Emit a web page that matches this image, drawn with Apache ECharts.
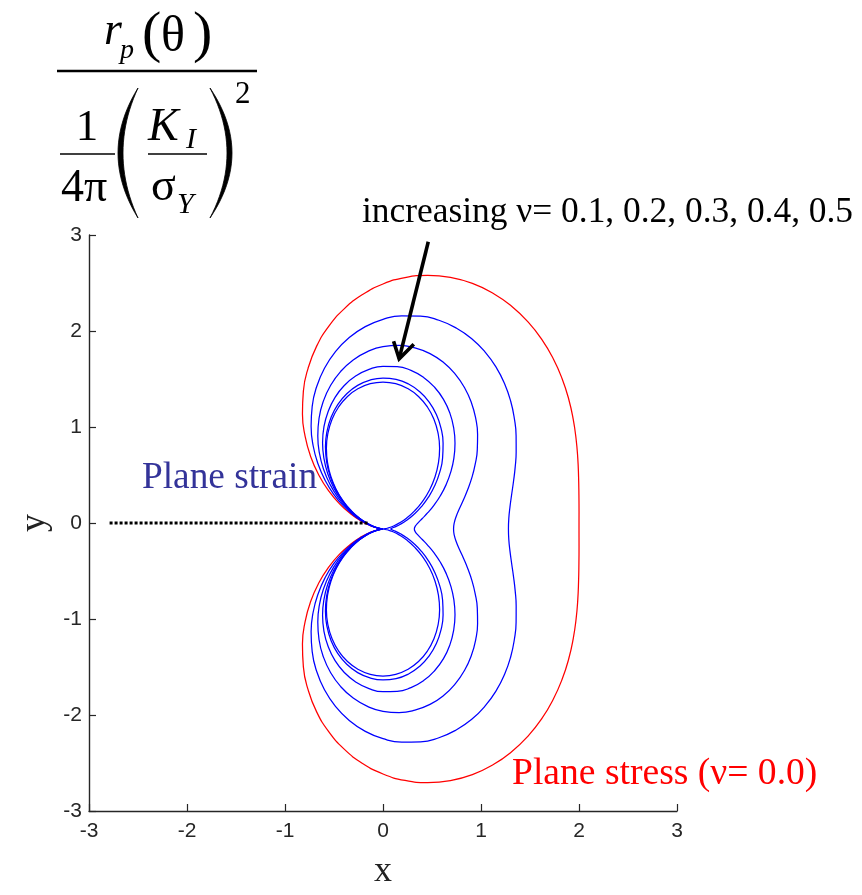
<!DOCTYPE html>
<html>
<head>
<meta charset="utf-8">
<script src="https://cdn.jsdelivr.net/npm/echarts@6/dist/echarts.min.js"></script>
<style>
  html, body { margin: 0; padding: 0; background: #fff; }
  #chart { width: 862px; height: 895px; }
</style>
</head>
<body>
<div id="chart"></div>
<script>
// Polar angle of each sample, degrees (crack lies along ±180°)
const thetaDeg = [
  -180,-175,-170,-165,-160,-155,-150,-145,-140,-135,-130,-125,-120,-115,-110,-105,-100,-95,
  -90,-85,-80,-75,-70,-65,-60,-55,-50,-45,-40,-35,-30,-25,-20,-15,-10,-5,
  0,5,10,15,20,25,30,35,40,45,50,55,60,65,70,75,80,85,
  90,95,100,105,110,115,120,125,130,135,140,145,150,155,160,165,170,175,180];

// Normalised plastic-zone radius r_p(θ) / [(1/4π)(K_I/σ_Y)^2]
const rPlaneStress = [
  0,0.015,0.060,0.135,0.236,0.362,0.509,0.674,0.854,1.043,1.237,1.433,1.625,1.809,1.983,2.141,2.281,2.401,
  2.500,2.576,2.628,2.658,2.667,2.655,2.625,2.580,2.523,2.457,2.386,2.313,2.241,2.174,2.115,2.066,2.030,2.008,
  2.000,2.008,2.030,2.066,2.115,2.174,2.241,2.313,2.386,2.457,2.523,2.580,2.625,2.655,2.667,2.658,2.628,2.576,
  2.500,2.401,2.281,2.141,1.983,1.809,1.625,1.433,1.237,1.043,0.854,0.674,0.509,0.362,0.236,0.135,0.060,0.015,0];
const rStrainNu01 = [
  0,0.014,0.055,0.122,0.214,0.328,0.461,0.609,0.770,0.937,1.109,1.279,1.445,1.602,1.746,1.874,1.984,2.073,
  2.140,2.184,2.206,2.205,2.183,2.143,2.085,2.014,1.932,1.843,1.750,1.658,1.569,1.488,1.417,1.359,1.316,1.289,
  1.280,1.289,1.316,1.359,1.417,1.488,1.569,1.658,1.750,1.843,1.932,2.014,2.085,2.143,2.183,2.205,2.206,2.184,
  2.140,2.073,1.984,1.874,1.746,1.602,1.445,1.279,1.109,0.937,0.770,0.609,0.461,0.328,0.214,0.122,0.055,0.014,0];
const rStrainNu02 = [
  0,0.013,0.051,0.113,0.197,0.302,0.423,0.559,0.704,0.855,1.009,1.160,1.305,1.440,1.561,1.666,1.752,1.817,
  1.860,1.880,1.877,1.853,1.808,1.744,1.665,1.573,1.472,1.365,1.256,1.148,1.047,0.954,0.874,0.808,0.760,0.730,
  0.720,0.730,0.760,0.808,0.874,0.954,1.047,1.148,1.256,1.365,1.472,1.573,1.665,1.744,1.808,1.853,1.877,1.880,
  1.860,1.817,1.752,1.666,1.561,1.440,1.305,1.160,1.009,0.855,0.704,0.559,0.423,0.302,0.197,0.113,0.051,0.013,0];
const rStrainNu03 = [
  0,0.012,0.048,0.106,0.185,0.283,0.396,0.522,0.657,0.797,0.937,1.075,1.205,1.324,1.430,1.518,1.587,1.635,
  1.660,1.663,1.643,1.601,1.539,1.460,1.365,1.258,1.143,1.023,0.902,0.785,0.674,0.573,0.486,0.415,0.363,0.331,
  0.320,0.331,0.363,0.415,0.486,0.573,0.674,0.785,0.902,1.023,1.143,1.258,1.365,1.460,1.539,1.601,1.643,1.663,
  1.660,1.635,1.587,1.518,1.430,1.324,1.205,1.075,0.937,0.797,0.657,0.522,0.396,0.283,0.185,0.106,0.048,0.012,0];
const rStrainNu04 = [
  0,0.012,0.046,0.102,0.178,0.272,0.380,0.501,0.629,0.762,0.895,1.024,1.145,1.255,1.351,1.429,1.488,1.525,
  1.540,1.532,1.502,1.450,1.378,1.289,1.185,1.069,0.946,0.818,0.690,0.566,0.450,0.344,0.253,0.179,0.125,0.091,
  0.080,0.091,0.125,0.179,0.253,0.344,0.450,0.566,0.690,0.818,0.946,1.069,1.185,1.289,1.378,1.450,1.502,1.532,
  1.540,1.525,1.488,1.429,1.351,1.255,1.145,1.024,0.895,0.762,0.629,0.501,0.380,0.272,0.178,0.102,0.046,0.012,0];
const rStrainNu05 = [
  0,0.011,0.045,0.100,0.175,0.268,0.375,0.493,0.620,0.750,0.880,1.007,1.125,1.232,1.325,1.400,1.455,1.489,
  1.500,1.489,1.455,1.400,1.325,1.232,1.125,1.007,0.880,0.750,0.620,0.493,0.375,0.268,0.175,0.100,0.045,0.011,
  0,0.011,0.045,0.100,0.175,0.268,0.375,0.493,0.620,0.750,0.880,1.007,1.125,1.232,1.325,1.400,1.455,1.489,
  1.500,1.489,1.455,1.400,1.325,1.232,1.125,1.007,0.880,0.750,0.620,0.493,0.375,0.268,0.175,0.100,0.045,0.011,0];

// Axis ticks
const xTicks = [-3,-2,-1,0,1,2,3];
const yTicks = [-3,-2,-1,0,1,2,3];

// Crack faces (dotted) and the "increasing ν" pointer, in x-y units
const crackLine = [[-2.79, 0], [-0.14, 0]];
const arrowShaft = [[0.462, 2.93], [0.165, 1.71]];
const arrowHead = [[0.108, 1.893], [0.165, 1.71], [0.314, 1.862]];

const chart = echarts.init(document.getElementById('chart'), null, { renderer: 'canvas' });

const GRID = { left: 89, top: 235, width: 588, height: 588 };
const SERIF = '"Liberation Serif", "Times New Roman", serif';
const SANS = '"Liberation Sans Narrow", "Liberation Sans", Arial, sans-serif';

function polarSeries(name, radii, color) {
  return {
    name, type: 'line', coordinateSystem: 'polar', polarIndex: 0,
    data: thetaDeg.map((t, i) => [radii[i], t]),
    symbol: 'none', smooth: 0.5, silent: true,
    lineStyle: { color, width: 1.25 }
  };
}

// text placed by its baseline (canvas 'middle' sits 0.3375em above the baseline for this face)
function txt(str, left, baseline, size, opts = {}) {
  return {
    type: 'text', x: left, y: baseline - 0.3375 * size, silent: true,
    style: {
      text: str,
      font: (opts.italic ? 'italic ' : '') + size + 'px ' + SERIF,
      fill: opts.color || '#000',
      align: opts.align || 'left',
      verticalAlign: 'middle'
    }
  };
}
function bar(x1, x2, y, w) {
  return { type: 'line', silent: true, shape: { x1, y1: y, x2, y2: y }, style: { stroke: '#000', lineWidth: w } };
}
// tall bracket glyph: crescent between two quadratic curves sharing the end points
function paren(xEnd, yTop, yBot, cOuter, cInner) {
  const ym = (yTop + yBot) / 2;
  const q = (c, t) => [
    (1 - t) * (1 - t) * xEnd + 2 * (1 - t) * t * c + t * t * xEnd,
    (1 - t) * (1 - t) * yTop + 2 * (1 - t) * t * ym + t * t * yBot
  ];
  const pts = [];
  for (let i = 0; i <= 24; i++) pts.push(q(cOuter, i / 24));
  for (let i = 24; i >= 0; i--) pts.push(q(cInner, i / 24));
  return { type: 'polygon', silent: true, shape: { points: pts }, style: { fill: '#000', stroke: '#000', lineWidth: 0.8 } };
}

const cx = GRID.left + GRID.width / 2;
const cy = GRID.top + GRID.height / 2;

const option = {
  animation: false,
  backgroundColor: '#fff',
  grid: { left: GRID.left, top: GRID.top, width: GRID.width, height: GRID.height, containLabel: false },
  xAxis: {
    type: 'value', min: xTicks[0], max: xTicks[xTicks.length - 1], interval: 1,
    name: 'x', nameLocation: 'middle', nameGap: 43,
    nameTextStyle: { fontFamily: SERIF, fontSize: 36, color: '#222' },
    axisLine: { onZero: false, lineStyle: { color: '#262626', width: 1.4 } },
    axisTick: { inside: true, length: 7, lineStyle: { color: '#262626', width: 1.2 } },
    axisLabel: { margin: 10, fontFamily: SANS, fontSize: 21, color: '#262626' },
    splitLine: { show: false }
  },
  yAxis: {
    type: 'value', min: yTicks[0], max: yTicks[yTicks.length - 1], interval: 1,
    name: 'y', nameLocation: 'middle', nameGap: 36, nameRotate: 90,
    nameTextStyle: { fontFamily: SERIF, fontSize: 36, color: '#222' },
    axisLine: { onZero: false, lineStyle: { color: '#262626', width: 1.4 } },
    axisTick: { inside: true, length: 7, lineStyle: { color: '#262626', width: 1.2 } },
    axisLabel: { margin: 7, fontFamily: SANS, fontSize: 21, color: '#262626' },
    splitLine: { show: false }
  },
  polar: { center: [cx, cy], radius: GRID.width / 2 },
  radiusAxis: { type: 'value', min: 0, max: 3, show: false, splitLine: { show: false } },
  angleAxis: { type: 'value', min: -180, max: 180, startAngle: 180, clockwise: false, show: false, splitLine: { show: false } },
  series: [
    polarSeries('Plane stress (ν = 0.0)', rPlaneStress, '#ff0000'),
    polarSeries('ν = 0.1', rStrainNu01, '#0000ff'),
    polarSeries('ν = 0.2', rStrainNu02, '#0000ff'),
    polarSeries('ν = 0.3', rStrainNu03, '#0000ff'),
    polarSeries('ν = 0.4', rStrainNu04, '#0000ff'),
    polarSeries('ν = 0.5', rStrainNu05, '#0000ff'),
    {
      name: 'crack', type: 'line', data: crackLine, symbol: 'none', silent: true,
      lineStyle: { color: '#000', width: 3.2, type: [3, 2], cap: 'butt' }
    },
    {
      name: 'pointer', type: 'line', data: arrowShaft, symbol: 'none', silent: true,
      lineStyle: { color: '#000', width: 3.6, cap: 'butt' }
    },
    {
      name: 'pointer head', type: 'line', data: arrowHead, symbol: 'none', silent: true,
      lineStyle: { color: '#000', width: 3.6, join: 'miter', cap: 'butt' }
    }
  ],
  graphic: { elements: [
    // normalisation factor
    txt('r', 104, 47, 46, { italic: true }),
    txt('p', 120, 60, 28, { italic: true }),
    txt('(', 142, 55, 58),
    txt('θ', 161, 55, 50),
    txt(')', 193, 55, 58),
    bar(57, 257, 71, 2.6),
    txt('1', 87, 143, 45, { align: 'center' }),
    bar(60, 115, 154, 1.6),
    txt('4π', 61, 204, 46),
    paren(138, 88, 218, 98, 108),
    txt('K', 148, 143, 46, { italic: true }),
    txt('I', 186, 150, 30, { italic: true }),
    bar(148, 207, 154, 1.6),
    txt('σ', 151, 203, 46),
    txt('Y', 177, 215, 30, { italic: true }),
    paren(210, 88, 218, 254, 244),
    txt('2', 235, 105, 31),
    // annotations
    txt('increasing ν= 0.1, 0.2, 0.3, 0.4, 0.5', 362, 225, 35.4),
    txt('Plane strain', 142, 491, 37.3, { color: '#333399' }),
    txt('Plane stress (ν= 0.0)', 512, 787, 37.6, { color: '#ff0000' })
  ] }
};

chart.setOption(option);
</script>
</body>
</html>
